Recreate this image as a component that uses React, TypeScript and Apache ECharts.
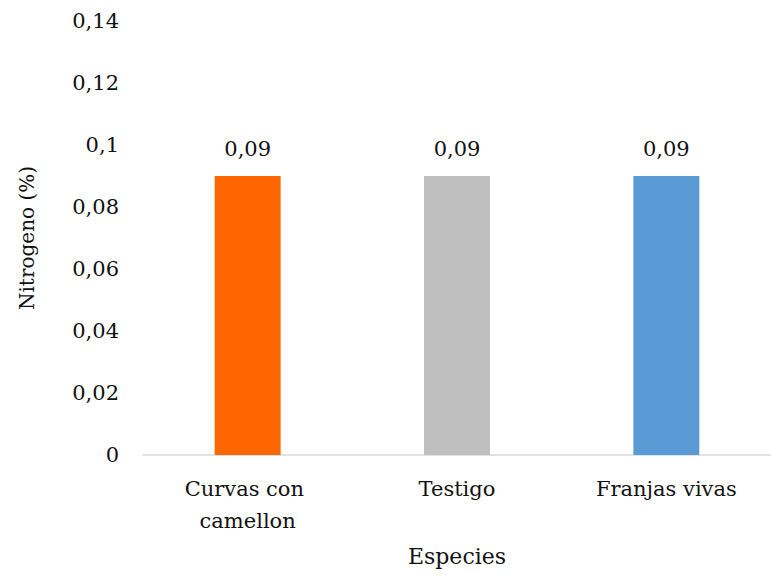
import React, { useEffect, useRef } from "react";
import * as echarts from "echarts";

// Nitrogen content per treatment
const categories: string[] = ["Curvas con camellon", "Testigo", "Franjas vivas"];
const nitrogenValues: number[] = [0.09, 0.09, 0.09];
const barColors: string[] = ["#FF6600", "#BFBFBF", "#5B9BD5"];

const yMin = 0;
const yMax = 0.14;
const yStep = 0.02;

const FONT = "DejaVu Serif";
const TEXT_COLOR = "#111";

const commaDecimal = (v: number): string =>
  String(Number(v.toFixed(4))).replace(".", ",");

export default function App() {
  const ref = useRef<HTMLDivElement>(null);

  useEffect(() => {
    if (!ref.current) return;
    document.body.style.margin = "0";
    const chart = echarts.init(ref.current, undefined, { renderer: "svg" });
    chart.setOption({
      animation: false,
      backgroundColor: "#ffffff",
      textStyle: { fontFamily: FONT },
      grid: { left: 143, top: 21, bottom: 120, width: 631 },
      xAxis: {
        type: "category",
        data: categories,
        name: "Especies",
        nameLocation: "middle",
        nameGap: 90,
        nameTextStyle: { fontFamily: FONT, fontSize: 22, color: TEXT_COLOR },
        axisLine: { show: true, lineStyle: { color: "#D9D9D9", width: 1.5 } },
        axisTick: { show: false },
        axisLabel: {
          fontFamily: FONT,
          fontSize: 21,
          color: TEXT_COLOR,
          margin: 18,
          lineHeight: 32,
          width: 160,
          overflow: "break",
          interval: 0,
        },
      },
      yAxis: {
        type: "value",
        min: yMin,
        max: yMax,
        interval: yStep,
        name: "Nitrogeno (%)",
        nameLocation: "middle",
        nameGap: 106,
        nameTextStyle: { fontFamily: FONT, fontSize: 20, color: TEXT_COLOR },
        axisLine: { show: false },
        axisTick: { show: false },
        splitLine: { show: false },
        axisLabel: {
          fontFamily: FONT,
          fontSize: 21,
          color: TEXT_COLOR,
          margin: 24,
          formatter: (v: number) => commaDecimal(v),
        },
      },
      series: [
        {
          type: "bar",
          barWidth: "31.5%",
          data: nitrogenValues.map((v, i) => ({
            value: v,
            itemStyle: { color: barColors[i] },
          })),
          label: {
            show: true,
            position: "top",
            distance: 17,
            fontFamily: FONT,
            fontSize: 21,
            color: TEXT_COLOR,
            formatter: (p: any) => commaDecimal(p.value),
          },
        },
      ],
    });
    return () => chart.dispose();
  }, []);

  return <div ref={ref} style={{ width: 771, height: 575 }} />;
}
